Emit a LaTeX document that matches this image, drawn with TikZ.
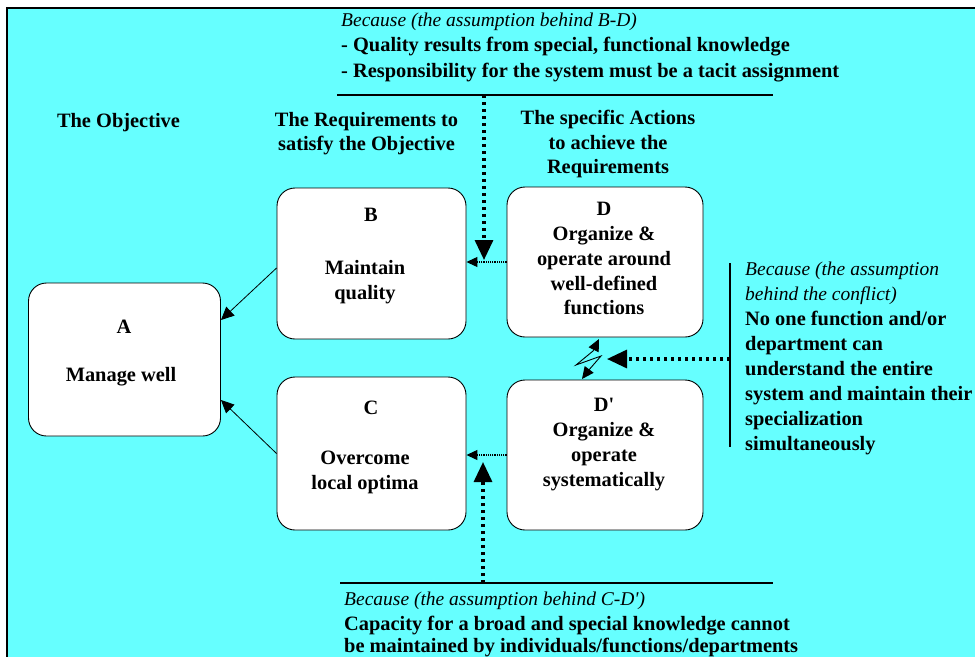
\documentclass[tikz,border=0pt]{standalone}
\usepackage{fontspec}
\setmainfont{Liberation Serif}
\usetikzlibrary{arrows.meta,calc}
\definecolor{bg}{HTML}{66FFFF}
\begin{document}
\begin{tikzpicture}[x=1pt,y=-1pt,
  box/.style={draw=black, line width=0.9pt, fill=white, rounded corners=18pt, inner sep=0pt},
  bt/.style={font=\fontsize{20.4}{24}\selectfont\bfseries, anchor=base, inner sep=0pt},
  btl/.style={font=\fontsize{20.4}{24}\selectfont\bfseries, anchor=base west, inner sep=0pt},
  itl/.style={font=\fontsize{19.5}{24}\selectfont\itshape, anchor=base west, inner sep=0pt},
  bigdot/.style={line width=3.2pt, dash pattern=on 3pt off 4pt},
  bighead/.style={-{Triangle[length=20pt,width=18pt]}},
  smalldot/.style={line width=1.2pt, dash pattern=on 1.2pt off 1pt},
  smallhead/.style={-{Triangle[length=11pt,width=10pt]}},
  thinarrow/.style={line width=0.8pt, -{Triangle[length=13pt,width=12pt]}},
  rule/.style={line width=2pt}
]
\useasboundingbox (0,0) rectangle (975,657);
\fill[bg] (7,8) rectangle (975,657);
\draw[rule] (975,8) -- (7,8) -- (7,657);

% boxes
\node[box, minimum width=192pt, minimum height=153pt] (A) at (124.5,359.5) {};
\node[box, minimum width=189pt, minimum height=151pt] (B) at (371.5,263.5) {};
\node[box, minimum width=189pt, minimum height=153pt] (C) at (371.5,453.5) {};
\node[box, minimum width=196pt, minimum height=150pt] (D) at (605,262) {};
\node[box, minimum width=196pt, minimum height=150pt] (Dp) at (605,455) {};

% box texts
\node[bt] (A1) at (124,333) {A};
\node[bt] (A2) at (121,381) {Manage well};
\node[bt] (B1) at (371,221) {B};
\node[bt] (B2) at (365,274) {Maintain};
\node[bt] (B3) at (365,299) {quality};
\node[bt] (C1) at (371,414) {C};
\node[bt] (C2) at (365,464) {Overcome};
\node[bt] (C3) at (365,489) {local optima};
\node[bt] (D1) at (604,215) {D};
\node[bt] (D2) at (604,240) {Organize \&};
\node[bt] (D3) at (604,265) {operate around};
\node[bt] (D4) at (604,290) {well-defined};
\node[bt] (D5) at (604,314) {functions};
\node[bt] (E1) at (604,411) {D\textquotesingle};
\node[bt] (E2) at (604,436) {Organize \&};
\node[bt] (E3) at (604,461) {operate};
\node[bt] (E4) at (604,486) {systematically};

% column headings
\node[bt] (H1) at (118.5,127) {The Objective};
\node[bt] (H2) at (366.5,126) {The Requirements to};
\node[bt] (H3) at (366.5,150) {satisfy the Objective};
\node[bt] (H4) at (608,124) {The specific Actions};
\node[bt] (H5) at (608,149) {to achieve the};
\node[bt] (H6) at (608,173) {Requirements};

% top assumption
\node[itl] (T0) at (341,26) {Because (the assumption behind B-D)};
\node[btl] (T1) at (341,51) {- Quality results from special, functional knowledge};
\node[btl] (T2) at (341,77) {- Responsibility for the system must be a tacit assignment};

% right assumption
\node[itl] (R0) at (745,275) {Because (the assumption};
\node[itl] (R1) at (745,300) {behind the conflict)};
\node[btl] (R2) at (745,325) {No one function and/or};
\node[btl] (R3) at (745,350) {department can};
\node[btl] (R4) at (745,375) {understand the entire};
\node[btl] (R5) at (745,400) {system and maintain their};
\node[btl] (R6) at (745,425) {specialization};
\node[btl] (R7) at (745,450) {simultaneously};

% bottom assumption
\node[itl] (U0) at (344,605) {Because (the assumption behind C-D\textquotesingle)};
\node[btl] (U1) at (344,630) {Capacity for a broad and special knowledge cannot};
\node[btl] (U2) at (344,652) {be maintained by individuals/functions/departments};

% rules
\coordinate (TL) at (337,95);
\coordinate (TR) at (773,95);
\coordinate (BL) at (340,583);
\coordinate (BR) at (773,583);
\coordinate (RT) at (730,263);
\coordinate (RB) at (730,447);
\draw[rule] (TL) -- (TR);
\draw[rule] (BL) -- (BR);
\draw[rule] (RT) -- (RB);

% requirement arrows
\coordinate (Bout) at ($(B.west)+(0,4.5)$);
\coordinate (Ain1) at ($(A.east)+(0,-39.5)$);
\coordinate (Ain2) at ($(A.east)+(0,40.5)$);
\draw[thinarrow] (Bout) -- (Ain1);
\draw[thinarrow] (C.west) -- (Ain2);

% action arrows
\draw[smalldot, smallhead] (D.west) -- (D.west -| B.east);
\draw[smalldot, smallhead] (Dp.west) -- (Dp.west -| C.east);

% assumption arrows
\coordinate (Ttap) at (484,95);
\coordinate (Ttip) at (484,260);
\draw[bigdot, bighead] (Ttap) -- (Ttip);
\coordinate (Utap) at (483,583);
\coordinate (Utip) at (483,462);
\draw[bigdot, bighead] (Utap) -- (Utip);
\coordinate (Rtap) at (730,359);
\coordinate (Rtip) at (607,359);
\draw[bigdot, bighead] (Rtap) -- (Rtip);

% conflict
\coordinate (Z0) at (599,339);
\coordinate (Z1) at (593,351);
\coordinate (Z2) at (576,365);
\coordinate (Z3) at (601,356);
\coordinate (Z4) at (588,371);
\coordinate (Z5) at (582,379);
\draw[line width=0.9pt, {Triangle[length=12pt,width=11pt]}-{Triangle[length=12pt,width=11pt]}]
  (Z0) -- (Z1) -- (Z2) -- (Z3) -- (Z4) -- (Z5);
\end{tikzpicture}
\end{document}
